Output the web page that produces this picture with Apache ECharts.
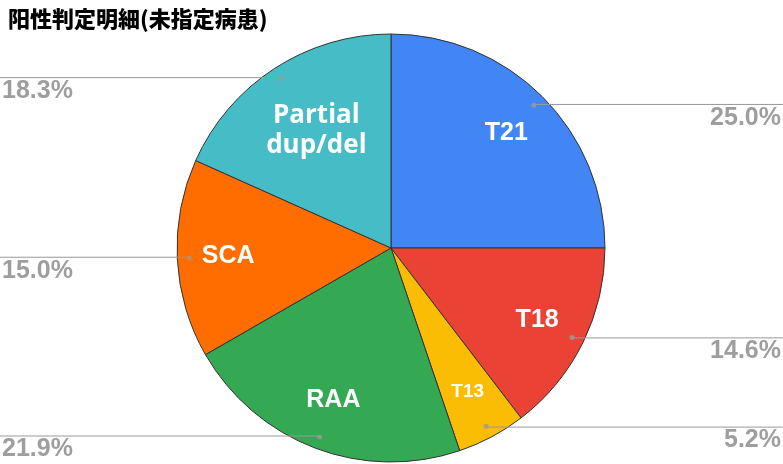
<!DOCTYPE html>
<html>
<head>
<meta charset="utf-8">
<script src="https://cdn.jsdelivr.net/npm/echarts@6/dist/echarts.min.js"></script>
<style>
html,body{margin:0;padding:0;background:#fff;}
#chart{width:783px;height:464px;}
</style>
</head>
<body>
<div id="chart"></div>
<script>
const titleText = '阳性判定明細(未指定病患)';
const categories = ['T21', 'T18', 'T13', 'RAA', 'SCA', 'Partial dup/del'];
const insideNames = ['T21', 'T18', 'T13', 'RAA', 'SCA', 'Partial\ndup/del'];
const percents = [25.0, 14.6, 5.2, 21.9, 15.0, 18.3];
const colors = ['#4285F4', '#EA4335', '#FBBC04', '#34A853', '#FF6D01', '#46BDC6'];

const CENTER = [391, 248];
const R = 214;

const chart = echarts.init(document.getElementById('chart'), null, {renderer: 'canvas'});

const mainData = categories.map((c, i) => ({name: c, value: percents[i], itemStyle: {color: colors[i]}}));

const insideData = categories.map((c, i) => {
  const item = {name: c, value: percents[i]};
  if (i === 5) {
    item.label = {fontFamily: 'Open Sans', fontSize: 26, lineHeight: 30, offset: [14, 19]};
  }
  if (i === 2) {
    item.label = {fontSize: 19};
  }
  return item;
});

const total = percents.reduce((a, b) => a + b, 0);
let cum = 0;
const dotData = percents.map(v => {
  const mid = cum + v / 2;
  cum += v;
  return [202, mid / total * 100];
});

const option = {
  animation: false,
  title: {
    text: titleText,
    left: 3,
    top: 3,
    textStyle: {fontFamily: 'Noto Sans CJK JP', fontSize: 22, fontWeight: 900, color: '#000'}
  },
  polar: {center: CENTER, radius: R},
  angleAxis: {type: 'value', min: 0, max: 100, startAngle: 90, clockwise: true, show: false,
    axisLine: {show: false}, axisTick: {show: false}, axisLabel: {show: false}, splitLine: {show: false}},
  radiusAxis: {type: 'value', min: 0, max: R, show: false,
    axisLine: {show: false}, axisTick: {show: false}, axisLabel: {show: false}, splitLine: {show: false}},
  series: [
    {
      type: 'pie',
      center: CENTER,
      radius: R,
      startAngle: 90,
      clockwise: true,
      silent: true,
      z: 1,
      data: mainData,
      label: {show: false},
      labelLine: {show: false},
      itemStyle: {borderColor: '#333', borderWidth: 1}
    },
    {
      type: 'pie',
      center: CENTER,
      radius: [120, 200],
      startAngle: 90,
      clockwise: true,
      silent: true,
      z: 3,
      data: insideData,
      itemStyle: {color: 'rgba(0,0,0,0)', borderWidth: 0},
      label: {
        show: true,
        position: 'inside',
        formatter: p => insideNames[p.dataIndex],
        color: '#fff',
        fontFamily: 'Liberation Sans',
        fontWeight: 'bold',
        fontSize: 25
      },
      labelLine: {show: false}
    },
    {
      type: 'pie',
      center: CENTER,
      radius: 202,
      startAngle: 90,
      clockwise: true,
      silent: true,
      z: 2,
      data: categories.map((c, i) => ({name: c, value: percents[i]})),
      itemStyle: {color: 'rgba(0,0,0,0)', borderWidth: 0},
      label: {
        show: true,
        position: 'outer',
        alignTo: 'edge',
        edgeDistance: 2,
        distanceToLabelLine: -140,
        formatter: p => ' \n' + percents[p.dataIndex].toFixed(1) + '%',
        color: '#9e9e9e',
        fontFamily: 'Liberation Sans',
        fontWeight: 'bold',
        fontSize: 25,
        lineHeight: 27
      },
      labelLine: {
        show: true,
        length: 1,
        length2: 10,
        lineStyle: {color: '#999', width: 1}
      }
    },
    {
      type: 'scatter',
      coordinateSystem: 'polar',
      silent: true,
      z: 4,
      symbol: 'circle',
      symbolSize: 5,
      itemStyle: {color: '#9a9a9a'},
      data: dotData
    }
  ]
};
chart.setOption(option);
</script>
</body>
</html>
